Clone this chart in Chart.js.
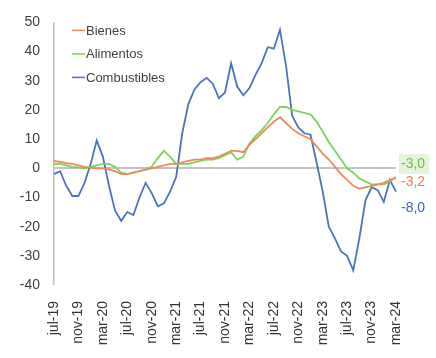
<!DOCTYPE html>
<html>
<head>
<meta charset="utf-8">
<script src="https://cdn.jsdelivr.net/npm/chart.js@4.4.0/dist/chart.umd.min.js"></script>
<style>
  body { margin: 0; background: #fff; }
  #wrap { width: 436px; height: 358px; }
</style>
</head>
<body>
<div id="wrap"><canvas id="myChart" width="436" height="358"></canvas></div>
<script>
const months = [
  'jul-19', 'ago-19', 'sep-19', 'oct-19', 'nov-19', 'dic-19',
  'ene-20', 'feb-20', 'mar-20', 'abr-20', 'may-20', 'jun-20', 'jul-20', 'ago-20', 'sep-20', 'oct-20', 'nov-20', 'dic-20',
  'ene-21', 'feb-21', 'mar-21', 'abr-21', 'may-21', 'jun-21', 'jul-21', 'ago-21', 'sep-21', 'oct-21', 'nov-21', 'dic-21',
  'ene-22', 'feb-22', 'mar-22', 'abr-22', 'may-22', 'jun-22', 'jul-22', 'ago-22', 'sep-22', 'oct-22', 'nov-22', 'dic-22',
  'ene-23', 'feb-23', 'mar-23', 'abr-23', 'may-23', 'jun-23', 'jul-23', 'ago-23', 'sep-23', 'oct-23', 'nov-23', 'dic-23',
  'ene-24', 'feb-24', 'mar-24',
];

const bienes = [
  2.5, 2.2, 1.8, 1.5, 1, 0.5, 0.3, 0, 0, -0.5,
  -1, -2, -2, -1.5, -1, -0.5, 0, 0.5, 1, 1.5,
  1.5, 2, 2.5, 3, 3, 3.5, 3.5, 4, 5, 6,
  6, 5.5, 8, 10, 12, 14, 16, 17.5, 15.5, 13.5,
  12, 11, 10, 7.5, 5, 3, 0.5, -2, -4, -6,
  -7, -6.5, -6, -5.5, -5, -4, -3.2,
];

const alimentos = [
  1.5, 1.5, 1, 0.5, 0.3, 0, 0.5, 1, 1.5, 1.5,
  0.5, -1.5, -2, -1.5, -1, -0.5, 0.5, 3.5, 6, 4,
  1.5, 1.5, 1.5, 2, 2.5, 3, 3, 3.5, 4.5, 5.5,
  3, 4, 8.5, 11, 13, 15.5, 18.5, 21, 21, 20,
  19.5, 19, 18.5, 16, 12.5, 9, 6, 3, 0, -1.5,
  -3.5, -4.5, -5.5, -5.5, -5.5, -4.5, -3,
];

const combustibles = [
  -2, -1, -6, -9.5, -9.5, -5, 1.5, 9.5, 4, -6,
  -14.5, -18, -15, -16, -10, -5, -8.5, -13, -12, -8,
  -3, 12, 22, 27, 29.5, 31, 29, 24, 26, 36,
  28, 25, 27.5, 32, 36, 41.5, 41, 47.5, 35, 18,
  14, 12, 11.5, 2, -8, -20, -24, -28.5, -30, -35,
  -24, -11, -6.5, -7.5, -11.5, -4, -8,
];

const seriesNames = ['Bienes', 'Alimentos', 'Combustibles'];
const seriesColors = ['#EB8A5C', '#7FD35A', '#4A74C0'];
const labelColors = ['#E8825A', '#6CBF4A', '#3F67B0'];
const yTicks = [50, 40, 30, 20, 10, 0, -10, -20, -30, -40];

// where each end label sits relative to its last point (px)
const labelShift = [5, -13, 17];

const FONT = 'Liberation Sans, Arial, sans-serif';
const TEXT = '#404040';

const insideLegend = {
  id: 'insideLegend',
  afterDraw(chart) {
    const { ctx, chartArea } = chart;
    ctx.save();
    ctx.font = `13px ${FONT}`;
    ctx.textBaseline = 'middle';
    chart.data.datasets.forEach((ds, i) => {
      const y = chartArea.top + 8 + i * 23.5;
      const x = chartArea.left + 18;
      ctx.strokeStyle = ds.borderColor;
      ctx.lineWidth = 1.5;
      ctx.beginPath();
      ctx.moveTo(x, y);
      ctx.lineTo(x + 13, y);
      ctx.stroke();
      ctx.fillStyle = TEXT;
      ctx.fillText(ds.label, x + 14, y + 1);
    });
    ctx.restore();
  },
};

const endLabels = {
  id: 'endLabels',
  afterDatasetsDraw(chart) {
    const { ctx } = chart;
    ctx.save();
    ctx.font = `14px ${FONT}`;
    ctx.textBaseline = 'middle';
    chart.data.datasets.forEach((ds, i) => {
      const meta = chart.getDatasetMeta(i);
      const pt = meta.data[meta.data.length - 1];
      const v = ds.data[ds.data.length - 1];
      const txt = v.toFixed(1).replace('.', ',');
      const x = pt.x + 5;
      const y = pt.y + labelShift[i];
      if (i === 1) {
        const w = ctx.measureText(txt).width;
        ctx.fillStyle = '#E4F4DA';
        ctx.fillRect(x - 2, y - 10, w + 6, 20);
      }
      ctx.fillStyle = labelColors[i];
      ctx.fillText(txt, x, y);
    });
    ctx.restore();
  },
};

const makeSet = (label, data, color) => ({
  label,
  data,
  borderColor: color,
  backgroundColor: color,
  borderWidth: 1.8,
  pointRadius: 0,
  tension: 0,
  fill: false,
});

const chart = new Chart('myChart', {
  type: 'line',
  data: {
    labels: months,
    datasets: [
      makeSet(seriesNames[0], bienes, seriesColors[0]),
      makeSet(seriesNames[1], alimentos, seriesColors[1]),
      makeSet(seriesNames[2], combustibles, seriesColors[2]),
    ],
  },
  options: {
    responsive: false,
    animation: false,
    layout: { padding: { top: 15, right: 40, left: 0, bottom: 0 } },
    plugins: {
      legend: { display: false },
      tooltip: { enabled: false },
    },
    scales: {
      x: {
        grid: { display: false },
        border: { display: false },
        ticks: {
          autoSkip: false,
          minRotation: 90,
          maxRotation: 90,
          padding: 8,
          color: '#333333',
          font: { family: FONT, size: 14 },
          callback(val, idx) {
            return idx % 4 === 0 ? this.getLabelForValue(val) : '';
          },
        },
        afterFit(scale) { scale.height = 73; },
      },
      y: {
        min: yTicks[yTicks.length - 1],
        max: yTicks[0],
        border: { display: true, color: '#BFBFBF', width: 1.5 },
        grid: {
          drawTicks: false,
          color: (c) => (c.tick && c.tick.value === 0 ? '#C4C4C4' : 'rgba(0,0,0,0)'),
          lineWidth: (c) => (c.tick && c.tick.value === 0 ? 2 : 0),
        },
        ticks: {
          stepSize: 10,
          padding: 14,
          color: TEXT,
          font: { family: FONT, size: 14 },
        },
        afterFit(scale) { scale.width = 54; },
      },
    },
  },
  plugins: [insideLegend, endLabels],
});
</script>
</body>
</html>
